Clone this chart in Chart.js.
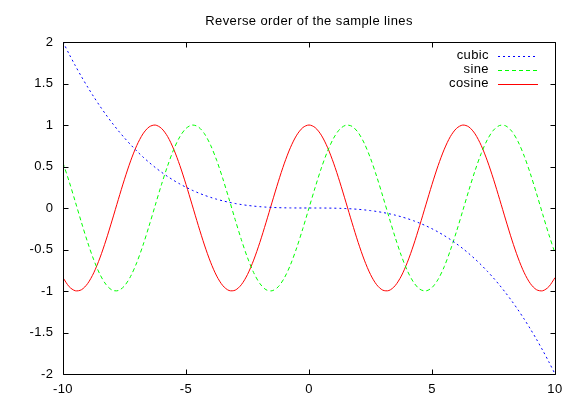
<!DOCTYPE html>
<html>
<head>
<meta charset="utf-8">
<script src="https://cdn.jsdelivr.net/npm/chart.js@4/dist/chart.umd.min.js"></script>
<style>
html,body{margin:0;padding:0;background:#fff;}
canvas{display:block;}
</style>
</head>
<body>
<canvas id="c" width="576" height="403"></canvas>
<script>
const titleText = 'Reverse order of the sample lines';
const seriesNames = ['cubic', 'sine', 'cosine'];
const xTickValues = [-10, -5, 0, 5, 10];
const xTickLabels = ['-10', '-5', '0', '5', '10'];
const yTickValues = [-2, -1.5, -1, -0.5, 0, 0.5, 1, 1.5, 2];
const yTickLabels = ['-2', '-1.5', '-1', '-0.5', '0', '0.5', '1', '1.5', '2'];

const xValues = [
 -10,-9.75,-9.5,-9.25,-9,-8.75,-8.5,-8.25,-8,-7.75,-7.5,-7.25,-7,-6.75,-6.5,-6.25,-6,-5.75,-5.5,-5.25,
 -5,-4.75,-4.5,-4.25,-4,-3.75,-3.5,-3.25,-3,-2.75,-2.5,-2.25,-2,-1.75,-1.5,-1.25,-1,-0.75,-0.5,-0.25,
 0,0.25,0.5,0.75,1,1.25,1.5,1.75,2,2.25,2.5,2.75,3,3.25,3.5,3.75,4,4.25,4.5,4.75,
 5,5.25,5.5,5.75,6,6.25,6.5,6.75,7,7.25,7.5,7.75,8,8.25,8.5,8.75,9,9.25,9.5,9.75,10
];

const cubicValues = [
 2,1.8537,1.7148,1.5829,1.458,1.3398,1.2283,1.1230,1.024,0.9310,0.8438,0.7622,0.686,0.6151,0.5493,0.4883,0.432,0.3802,0.3328,0.2894,
 0.25,0.2143,0.1823,0.1535,0.128,0.1055,0.0858,0.0687,0.054,0.0416,0.03125,0.0228,0.016,0.0107,0.00675,0.0039,0.002,0.00084,0.00025,0.00003,
 0,-0.00003,-0.00025,-0.00084,-0.002,-0.0039,-0.00675,-0.0107,-0.016,-0.0228,-0.03125,-0.0416,-0.054,-0.0687,-0.0858,-0.1055,-0.128,-0.1535,-0.1823,-0.2143,
 -0.25,-0.2894,-0.3328,-0.3802,-0.432,-0.4883,-0.5493,-0.6151,-0.686,-0.7622,-0.8438,-0.9310,-1.024,-1.1230,-1.2283,-1.3398,-1.458,-1.5829,-1.7148,-1.8537,-2
];

const sineValues = [
 0.5440,0.3195,0.0752,-0.1739,-0.4121,-0.6247,-0.7985,-0.9226,-0.9894,-0.9946,-0.9380,-0.8231,-0.6570,-0.4500,-0.2151,0.0332,0.2794,0.5062,0.7055,0.8589,
 0.9589,0.9993,0.9775,0.8950,0.7568,0.5716,0.3508,0.1082,-0.1411,-0.3817,-0.5985,-0.7781,-0.9093,-0.9840,-0.9975,-0.9490,-0.8415,-0.6816,-0.4794,-0.2474,
 0,0.2474,0.4794,0.6816,0.8415,0.9490,0.9975,0.9840,0.9093,0.7781,0.5985,0.3817,0.1411,-0.1082,-0.3508,-0.5716,-0.7568,-0.8950,-0.9775,-0.9993,
 -0.9589,-0.8589,-0.7055,-0.5062,-0.2794,-0.0332,0.2151,0.4500,0.6570,0.8231,0.9380,0.9946,0.9894,0.9226,0.7985,0.6247,0.4121,0.1739,-0.0752,-0.3195,-0.5440
];

const cosineValues = [
 -0.8391,-0.9476,-0.9972,-0.9848,-0.9111,-0.7808,-0.6020,-0.3858,-0.1455,0.1038,0.3466,0.5679,0.7539,0.8930,0.9766,0.9994,0.9602,0.8624,0.7087,0.5122,
 0.2837,0.0376,-0.2108,-0.4461,-0.6536,-0.8206,-0.9365,-0.9941,-0.9900,-0.9243,-0.8011,-0.6282,-0.4161,-0.1782,0.0707,0.3153,0.5403,0.7317,0.8776,0.9689,
 1,0.9689,0.8776,0.7317,0.5403,0.3153,0.0707,-0.1782,-0.4161,-0.6282,-0.8011,-0.9243,-0.9900,-0.9941,-0.9365,-0.8206,-0.6536,-0.4461,-0.2108,0.0376,
 0.2837,0.5122,0.7087,0.8624,0.9602,0.9994,0.9766,0.8930,0.7539,0.5679,0.3466,0.1038,-0.1455,-0.3858,-0.6020,-0.7808,-0.9111,-0.9848,-0.9972,-0.9476,-0.8391
];

const FONT = '"Liberation Sans", Arial, Helvetica, sans-serif';
const FSIZE = 13;

function toPoints(ys) { return xValues.map((x, i) => ({x: x, y: ys[i]})); }

const spacingPlugin = {
  id: 'spacingPlugin',
  beforeDraw(chart) {
    if ('letterSpacing' in chart.ctx) chart.ctx.letterSpacing = '0.4px';
  }
};

const frameAndLegend = {
  id: 'frameAndLegend',
  afterDatasetsDraw(chart) {
    const ctx = chart.ctx;
    const a = chart.chartArea;
    const xs = chart.scales.x, ys = chart.scales.y;
    ctx.save();
    ctx.strokeStyle = '#000';
    ctx.lineWidth = 1;
    ctx.setLineDash([]);
    const L = Math.round(a.left) + 0.5, R = Math.round(a.right) + 0.5;
    const T = Math.round(a.top) + 0.5, B = Math.round(a.bottom) + 0.5;
    ctx.beginPath();
    ctx.rect(L, T, R - L, B - T);
    ctx.stroke();
    const tl = 5;
    ctx.beginPath();
    yTickValues.forEach(v => {
      const p = Math.round(ys.getPixelForValue(v)) + 0.5;
      ctx.moveTo(L, p); ctx.lineTo(L + tl, p);
      ctx.moveTo(R, p); ctx.lineTo(R - tl, p);
    });
    xTickValues.forEach(v => {
      const p = Math.round(xs.getPixelForValue(v)) + 0.5;
      ctx.moveTo(p, B); ctx.lineTo(p, B - tl);
      ctx.moveTo(p, T); ctx.lineTo(p, T + tl);
    });
    ctx.stroke();

    // legend (top right, inside plot)
    ctx.font = FSIZE + 'px ' + FONT;
    ctx.textAlign = 'right';
    ctx.textBaseline = 'middle';
    const textRight = a.right - 66;
    const sx0 = a.right - 57, sx1 = a.right - 17;
    chart.data.datasets.forEach((ds, i) => {
      const y = a.top + 13.5 + i * 14.2;
      ctx.fillStyle = '#000';
      ctx.fillText(ds.label, textRight, y);
      ctx.strokeStyle = ds.borderColor;
      ctx.setLineDash(ds.borderDash || []);
      ctx.beginPath();
      ctx.moveTo(sx0, Math.round(y) + 0.5);
      ctx.lineTo(sx1, Math.round(y) + 0.5);
      ctx.stroke();
    });
    ctx.restore();
  }
};

new Chart(document.getElementById('c'), {
  type: 'line',
  data: {
    datasets: [
      {label: seriesNames[0], data: toPoints(cubicValues), borderColor: '#0000ff', borderDash: [2, 3], borderWidth: 1, pointRadius: 0, tension: 0.3, fill: false},
      {label: seriesNames[1], data: toPoints(sineValues), borderColor: '#00ff00', borderDash: [4, 3], borderWidth: 1, pointRadius: 0, tension: 0.3, fill: false},
      {label: seriesNames[2], data: toPoints(cosineValues), borderColor: '#ff0000', borderWidth: 1, pointRadius: 0, tension: 0.3, fill: false}
    ]
  },
  options: {
    responsive: false,
    animation: false,
    devicePixelRatio: 1,
    layout: {padding: {left: 0, right: 21, top: 0, bottom: 0}},
    plugins: {
      legend: {display: false},
      tooltip: {enabled: false},
      title: {
        display: true,
        fullSize: false,
        text: titleText,
        color: '#000',
        font: {family: FONT, size: FSIZE, weight: 'normal', lineHeight: 1.2},
        padding: {top: 13.7, bottom: 12.7}
      }
    },
    scales: {
      x: {
        type: 'linear',
        min: -10, max: 10,
        afterFit(s) { s.height = 29; },
        afterBuildTicks(s) { s.ticks = xTickValues.map(v => ({value: v})); },
        grid: {display: false, drawTicks: false},
        border: {display: false},
        ticks: {
          color: '#000',
          font: {family: FONT, size: FSIZE},
          padding: 7.5,
          maxRotation: 0,
          autoSkip: false,
          callback: (v) => { const i = xTickValues.indexOf(v); return i >= 0 ? xTickLabels[i] : ''; }
        }
      },
      y: {
        type: 'linear',
        min: -2, max: 2,
        afterFit(s) { s.width = 63; },
        afterBuildTicks(s) { s.ticks = yTickValues.map(v => ({value: v})); },
        grid: {display: false, drawTicks: false},
        border: {display: false},
        ticks: {
          color: '#000',
          font: {family: FONT, size: FSIZE},
          padding: 9.6,
          autoSkip: false,
          callback: (v) => { const i = yTickValues.indexOf(v); return i >= 0 ? yTickLabels[i] : ''; }
        }
      }
    }
  },
  plugins: [spacingPlugin, frameAndLegend]
});
</script>
</body>
</html>
